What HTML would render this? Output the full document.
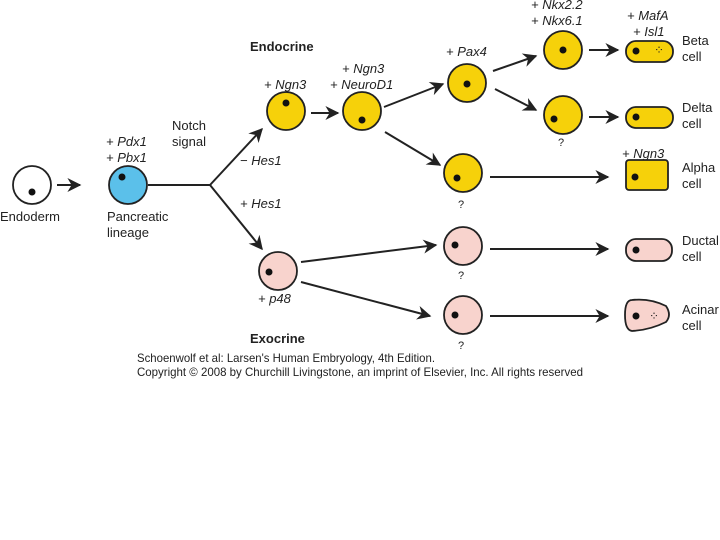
<!DOCTYPE html>
<html><head><style>body{margin:0;background:#fff}svg{display:block}text{font-family:"Liberation Sans",sans-serif;fill:#222}.i{font-style:italic}</style></head><body>
<svg width="720" height="540" viewBox="0 0 720 540">
<defs><marker id="b" viewBox="0 0 10 10" markerWidth="16" markerHeight="14" refX="9" refY="5" orient="auto" markerUnits="userSpaceOnUse"><path d="M0,0 L10,5 L0,10 L3,5z" fill="#222"/></marker></defs>
<g stroke="#222" stroke-width="2" fill="none" marker-end="url(#b)">
<line x1="57" y1="185" x2="80" y2="185"/>
<line x1="210" y1="185" x2="262" y2="129"/>
<line x1="210" y1="185" x2="262" y2="249"/>
<line x1="311" y1="113" x2="338" y2="113"/>
<line x1="384" y1="107" x2="443" y2="84"/>
<line x1="385" y1="132" x2="440" y2="165"/>
<line x1="493" y1="71" x2="536" y2="56"/>
<line x1="495" y1="89" x2="536" y2="110"/>
<line x1="589" y1="50" x2="618" y2="50"/>
<line x1="589" y1="117" x2="618" y2="117"/>
<line x1="490" y1="177" x2="608" y2="177"/>
<line x1="301" y1="262" x2="436" y2="245"/>
<line x1="301" y1="282" x2="430" y2="316"/>
<line x1="490" y1="249" x2="608" y2="249"/>
<line x1="490" y1="316" x2="608" y2="316"/>
</g>
<line x1="148" y1="185" x2="211" y2="185" stroke="#222" stroke-width="2"/>
<g stroke="#222" stroke-width="1.8">
<circle cx="32" cy="185" r="19" fill="#fff"/>
<circle cx="128" cy="185" r="19" fill="#5bc0ea"/>
<circle cx="286" cy="111" r="19" fill="#f6d10a"/>
<circle cx="362" cy="111" r="19" fill="#f6d10a"/>
<circle cx="467" cy="83" r="19" fill="#f6d10a"/>
<circle cx="563" cy="50" r="19" fill="#f6d10a"/>
<circle cx="563" cy="115" r="19" fill="#f6d10a"/>
<circle cx="463" cy="173" r="19" fill="#f6d10a"/>
<circle cx="463" cy="246" r="19" fill="#f8d3cd"/>
<circle cx="463" cy="315" r="19" fill="#f8d3cd"/>
<circle cx="278" cy="271" r="19" fill="#f8d3cd"/>
<rect x="626" y="41" width="47" height="21" rx="10" fill="#f6d10a"/>
<rect x="626" y="107" width="47" height="21" rx="10" fill="#f6d10a"/>
<rect x="626" y="160" width="42" height="30" rx="3" fill="#f6d10a"/>
<rect x="626" y="239" width="46" height="22" rx="10" fill="#f8d3cd"/>
<path d="M632,300 Q650,298 666,306 Q672,315 666,322 Q650,330 632,331 Q625,330 625,315 Q625,300 632,300z" fill="#f8d3cd"/>
</g>
<g fill="#111">
<circle cx="32" cy="192" r="3.5"/><circle cx="122" cy="177" r="3.5"/><circle cx="286" cy="103" r="3.5"/>
<circle cx="362" cy="120" r="3.5"/><circle cx="467" cy="84" r="3.5"/><circle cx="563" cy="50" r="3.5"/>
<circle cx="554" cy="119" r="3.5"/><circle cx="457" cy="178" r="3.5"/><circle cx="455" cy="245" r="3.5"/>
<circle cx="455" cy="315" r="3.5"/><circle cx="269" cy="272" r="3.5"/>
<circle cx="636" cy="51" r="3.5"/><circle cx="636" cy="117" r="3.5"/><circle cx="635" cy="177" r="3.5"/>
<circle cx="636" cy="250" r="3.5"/><circle cx="636" cy="316" r="3.5"/>
</g>
<text x="659" y="54" font-size="12" fill="#333" text-anchor="middle">⁘</text>
<text x="654" y="320" font-size="12" fill="#333" text-anchor="middle">⁘</text>
<g font-size="13">
<text x="0" y="221">Endoderm</text>
<text x="107" y="221">Pancreatic</text><text x="107" y="237">lineage</text>
<text x="172" y="130">Notch</text><text x="172" y="146">signal</text>
<text x="250" y="51" font-weight="bold">Endocrine</text>
<text x="250" y="343" font-weight="bold">Exocrine</text>
<text x="682" y="45">Beta</text><text x="682" y="61">cell</text>
<text x="682" y="112">Delta</text><text x="682" y="128">cell</text>
<text x="682" y="172">Alpha</text><text x="682" y="188">cell</text>
<text x="682" y="245">Ductal</text><text x="682" y="261">cell</text>
<text x="682" y="314">Acinar</text><text x="682" y="330">cell</text>
</g>
<g font-size="13">
<text x="106" y="146" class="i">+ Pdx1</text><text x="106" y="162" class="i">+ Pbx1</text>
<text x="240" y="165" class="i">− Hes1</text><text x="240" y="208" class="i">+ Hes1</text>
<text x="264" y="89" class="i">+ Ngn3</text>
<text x="342" y="73" class="i">+ Ngn3</text><text x="330" y="89" class="i">+ NeuroD1</text>
<text x="446" y="56" class="i">+ Pax4</text>
<text x="531" y="9" class="i">+ Nkx2.2</text><text x="531" y="25" class="i">+ Nkx6.1</text>
<text x="627" y="20" class="i">+ MafA</text><text x="633" y="36" class="i">+ Isl1</text>
<text x="622" y="158" class="i">+ Ngn3</text>
<text x="258" y="303" class="i">+ p48</text>
</g>
<g font-size="11" text-anchor="middle"><text x="561" y="146">?</text><text x="461" y="208">?</text><text x="461" y="279">?</text><text x="461" y="349">?</text></g>
<g font-size="12"><text x="137" y="362" textLength="298" lengthAdjust="spacingAndGlyphs">Schoenwolf et al: Larsen's Human Embryology, 4th Edition.</text>
<text x="137" y="376" textLength="446" lengthAdjust="spacingAndGlyphs">Copyright © 2008 by Churchill Livingstone, an imprint of Elsevier, Inc. All rights reserved</text></g>
</svg>
</body></html>
